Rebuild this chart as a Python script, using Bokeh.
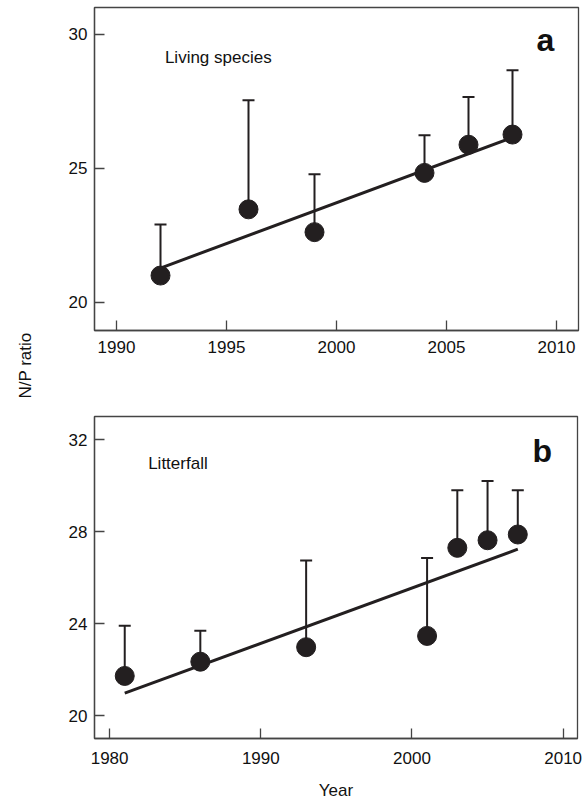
import math
from bokeh.plotting import figure
from bokeh.layouts import column, row
from bokeh.models import Range1d, Label, FixedTicker, ColumnDataSource
from bokeh.core.properties import value
from bokeh.embed import file_html
from bokeh.resources import INLINE

# ---- data: panel a (living species) ----
years_a = [1992, 1996, 1999, 2004, 2006, 2008]
np_a = [21.0, 23.47, 22.62, 24.83, 25.88, 26.26]
upper_a = [22.9, 27.54, 24.78, 26.23, 27.66, 28.66]
fit_years_a = [1992, 2008]
fit_a = [21.28, 26.15]

# ---- data: panel b (litterfall) ----
years_b = [1981, 1986, 1993, 2001, 2003, 2005, 2007]
np_b = [21.72, 22.34, 22.97, 23.46, 27.29, 27.62, 27.87]
upper_b = [23.9, 23.69, 26.74, 26.85, 29.79, 30.2, 29.79]
fit_years_b = [1981, 2007]
fit_b = [20.97, 27.23]

xticks_a = [1990, 1995, 2000, 2005, 2010]
yticks_a = [20, 25, 30]
xticks_b = [1980, 1990, 2000, 2010]
yticks_b = [20, 24, 28, 32]

y_title = "N/P ratio"
x_title = "Year"

FONT = "Liberation Sans"
DARK = "#231f20"
FRAME = "#444444"
TXT = "#111111"
LW = 40  # width of the strip holding the shared y title


def make_fig(xr, yr, xt, yt, fw, fh, top, bottom, right, xstand):
    p = figure(frame_width=fw, frame_height=fh, output_backend="svg", toolbar_location=None,
               x_range=Range1d(*xr), y_range=Range1d(*yr),
               min_border_left=94 - LW, min_border_right=right,
               min_border_top=top, min_border_bottom=bottom)
    p.xgrid.visible = False
    p.ygrid.visible = False
    p.outline_line_color = FRAME
    p.outline_line_width = 1.3
    p.background_fill_color = "white"
    p.border_fill_color = "white"
    p.xaxis.ticker = FixedTicker(ticks=xt)
    p.yaxis.ticker = FixedTicker(ticks=yt)
    for ax in (p.xaxis, p.yaxis):
        ax.axis_line_color = FRAME
        ax.axis_line_width = 1.3
        ax.major_tick_line_color = FRAME
        ax.major_tick_line_width = 1.3
        ax.major_tick_in = 10
        ax.major_tick_out = 0
        ax.minor_tick_line_color = None
        ax.major_label_text_font = FONT
        ax.major_label_text_font_size = "17px"
        ax.major_label_text_color = TXT
    p.xaxis.major_label_standoff = xstand
    p.yaxis.major_label_standoff = 7
    return p


def draw(p, years, vals, ups, fx, fy):
    src = ColumnDataSource(dict(x=years, y=vals, u=ups))
    p.segment(x0="x", y0="y", x1="x", y1="u", source=src, line_color=DARK, line_width=2)
    p.scatter(x="x", y="u", source=src, marker="dash", size=12, line_color=DARK, line_width=2)
    p.line(fx, fy, line_color=DARK, line_width=3)
    p.scatter(x="x", y="y", source=src, marker="circle", size=19,
              fill_color=DARK, line_color=DARK)


pa = make_fig((1989, 2011), (18.95, 31.0), xticks_a, yticks_a, 484, 323, 7, 70, 9, 10)
draw(pa, years_a, np_a, upper_a, fit_years_a, fit_a)
pa.add_layout(Label(x=1992.2, y=29.13, text="Living species", text_font=FONT,
                    text_font_size="17px", text_color=TXT,
                    text_baseline="alphabetic", text_align="left"))
pa.add_layout(Label(x=2009.9, y=29.78, text="a", text_font=FONT, text_font_style="bold",
                    text_font_size="32px", text_color=TXT,
                    text_baseline="alphabetic", text_align="right"))

pb = make_fig((1979, 2010.95), (19.0, 33.0), xticks_b, yticks_b, 483, 322, 16, 62, 10, 13)
draw(pb, years_b, np_b, upper_b, fit_years_b, fit_b)
pb.add_layout(Label(x=1982.55, y=30.97, text="Litterfall", text_font=FONT,
                    text_font_size="17px", text_color=TXT,
                    text_baseline="alphabetic", text_align="left"))
pb.add_layout(Label(x=2009.27, y=31.52, text="b", text_font=FONT, text_font_style="bold",
                    text_font_size="32px", text_color=TXT,
                    text_baseline="alphabetic", text_align="right"))
pb.xaxis.axis_label = x_title
pb.xaxis.axis_label_text_font = FONT
pb.xaxis.axis_label_text_font_size = "17px"
pb.xaxis.axis_label_text_font_style = "normal"
pb.xaxis.axis_label_text_color = TXT
pb.xaxis.axis_label_standoff = 14

# strip holding the shared y-axis title
ps = figure(width=LW, height=800, output_backend="svg", toolbar_location=None,
            x_range=Range1d(0, LW), y_range=Range1d(800, 0),
            min_border=0, min_border_left=0, min_border_right=0,
            min_border_top=0, min_border_bottom=0)
ps.axis.visible = False
ps.grid.visible = False
ps.outline_line_color = None
ps.text(x=[25], y=[365], text=[y_title], angle=math.pi / 2,
        text_font=value(FONT), text_font_size="17px", text_color=TXT,
        text_align="center", text_baseline="middle")

layout = row(ps, column(pa, pb, spacing=0), spacing=0)
open("out.html", "w").write(file_html(layout, INLINE))
